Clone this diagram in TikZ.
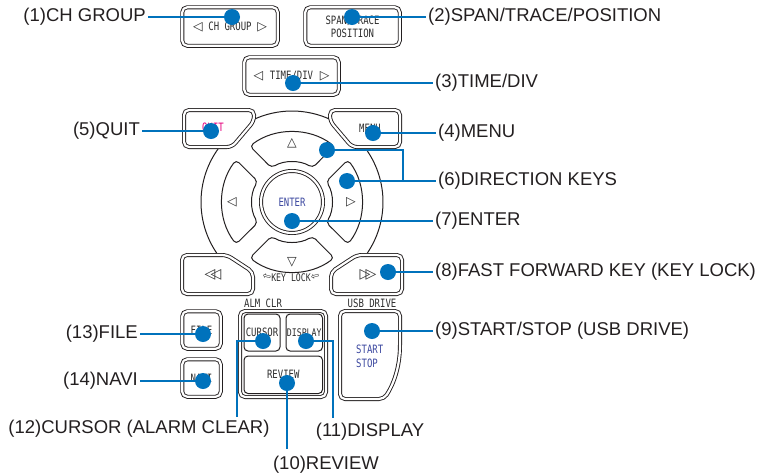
\documentclass[tikz,border=0pt]{standalone}
\usepackage{fontspec}
\setmainfont{Liberation Sans}
\newfontfamily\keyfont[FakeStretch=0.78]{DejaVu Sans Mono}
\newfontfamily\symfont{DejaVu Sans}
\usetikzlibrary{calc}
\definecolor{leadblue}{RGB}{0,114,188}
\definecolor{labeltext}{RGB}{35,31,32}
\definecolor{keyline}{RGB}{35,31,32}
\definecolor{keytext}{RGB}{45,45,45}
\definecolor{quitpink}{RGB}{230,0,126}
\definecolor{enterblue}{RGB}{60,72,160}
\tikzset{
    btn/.style={draw=keyline, line width=0.9pt, double=white, double distance=2.2pt,
        rounded corners=5pt, fill=white, inner sep=0pt},
    pad/.style={draw=keyline, line width=1pt, rounded corners=4pt, fill=white, inner sep=0pt},
    keylabel/.style={inner sep=0pt, text=keytext, font=\keyfont\fontsize{11.5}{13}\selectfont},
    sym/.style={inner sep=0pt, text=keytext, font=\symfont\fontsize{12.5}{12.5}\selectfont},
    dot/.style={circle, fill=leadblue, inner sep=0pt, minimum size=16pt},
    callout/.style={inner sep=2pt, text=labeltext, font=\fontsize{18.5}{20}\selectfont},
    lead/.style={leadblue, line width=2.2pt}
}
\def\ringr{91}
\def\keyout{70}
\def\keyin{40}
\def\trileft{{\symfont\fontsize{12.5}{12.5}\selectfont ◁}}
\def\triright{{\symfont\fontsize{12.5}{12.5}\selectfont ▷}}

\begin{document}
\begin{tikzpicture}[x=1pt, y=-1pt]
    \useasboundingbox (0,0) rectangle (758,475);
    \coordinate (c) at (292,202);

    % housing round the direction keys
    \draw
        [keyline, line width=1pt]
        ($(c)+(140:\ringr)$) arc[start angle=140, end angle=222, radius=\ringr]
        ($(c)+(-116:\ringr)$) arc[start angle=-116, end angle=-64, radius=\ringr]
        ($(c)+(-42:\ringr)$) arc[start angle=-42, end angle=40, radius=\ringr]
    ;

    % keys
    \draw
        node[btn, keylabel, minimum width=95.5pt, minimum height=38.5pt] (chgroup) at (230,26.5)
            {\makebox[74pt]{\trileft\hfill CH GROUP\hfill\triright}}
        node[btn, keylabel, align=center, minimum width=94.5pt, minimum height=38.5pt] (spantrace) at (352.5,26.5)
            {SPAN/TRACE\\POSITION}
        node[btn, keylabel, minimum width=94.5pt, minimum height=37.5pt] (timediv) at (291.5,76)
            {\makebox[76pt]{\trileft\hfill TIME/DIV\hfill\triright}}
        node[btn, keylabel, minimum width=38.5pt, minimum height=37.5pt] (file) at (201.5,330) {FILE}
        node[btn, keylabel, minimum width=38.5pt, minimum height=37.5pt] (navi) at (201.5,378) {NAVI}
        node[btn, minimum width=86pt, minimum height=86pt] (group) at (283,354) {}
        node[pad, keylabel, minimum width=36pt, minimum height=37pt] (cursor) at (262,332.5) {CURSOR}
        node[pad, keylabel, font=\keyfont\fontsize{10.5}{12}\selectfont, minimum width=36.5pt, minimum height=37pt]
            (display) at (304.25,332.5) {DISPLAY}
        node[pad, keylabel, minimum width=78.5pt, minimum height=37.5pt] (review) at (283.25,374.75) {REVIEW}
    ;
    \draw
        [btn]
        (219,110) -- (254,110) -- (254,121) -- (232,147) -- (184,147) -- (184,110) -- cycle
        (365,110) -- (400,110) -- (400,147) -- (352,147) -- (330,121) -- (330,110) -- cycle
        (182,275) -- (182,255) -- (227,255) -- (253,272) -- (253,294) -- (182,294) -- cycle
        (402,275) -- (402,255) -- (357,255) -- (331,272) -- (331,294) -- (402,294) -- cycle
        (370,311) -- (400,311) -- (400,340) .. controls (400,368) and (393,385) .. (384,399)
            -- (340,399) -- (340,311) -- cycle
    ;
    \foreach \a in {0,90,180,270}
        \draw
            [pad]
            ($(c)+(\a-37:\keyout)$) arc[start angle=\a-37, end angle=\a+37, radius=\keyout]
            -- ($(c)+(\a+31:\keyin)$) arc[start angle=\a+31, end angle=\a-31, radius=\keyin]
            -- cycle
        ;
    \node[btn, circle, keylabel, text=enterblue, minimum size=62pt] (enter) at (c) {ENTER};

    % key texts
    \draw
        node[keylabel, text=quitpink] (quit) at (213,128) {QUIT}
        node[keylabel] (menu) at (370,128) {MENU}
        node[sym] (up) at (292,143) {△}
        node[sym] (down) at (292,262) {▽}
        node[sym] (left) at (232,202) {◁}
        node[sym] (right) at (351,202) {▷}
        node[sym, font=\symfont\fontsize{14}{14}\selectfont] (rewind) at (213,275) {◁\kern-5pt◁}
        node[sym, font=\symfont\fontsize{14}{14}\selectfont] (fastfwd) at (368,275) {▷\kern-5pt▷}
        node[keylabel, font=\keyfont\fontsize{10.5}{12}\selectfont] (keylock) at (291,278) {KEY LOCK}
        node[sym, anchor=east, rotate=-15, font=\symfont\fontsize{10}{10}\selectfont] (lockl) at (keylock.west) {⇦}
        node[sym, anchor=west, rotate=15, font=\symfont\fontsize{10}{10}\selectfont] (lockr) at (keylock.east) {⇦}
        node[keylabel] (almclr) at (263,303) {ALM CLR}
        node[keylabel] (usbdrive) at (372,303) {USB DRIVE}
        node[keylabel, text=enterblue, align=left, anchor=west, font=\keyfont\fontsize{11.5}{14}\selectfont]
            (startstop) at (356,356) {START\\STOP}
    ;

    % call-outs
    \draw
        node[callout, anchor=east] (l1) at (148,17) {(1)CH GROUP}
        node[callout, anchor=west] (l2) at (426,17) {(2)SPAN/TRACE/POSITION}
        node[callout, anchor=west] (l3) at (433,83) {(3)TIME/DIV}
        node[callout, anchor=west] (l4) at (436,133) {(4)MENU}
        node[callout, anchor=east] (l5) at (142,131) {(5)QUIT}
        node[callout, anchor=west] (l6) at (436,181) {(6)DIRECTION KEYS}
        node[callout, anchor=west] (l7) at (433,221) {(7)ENTER}
        node[callout, anchor=west] (l8) at (433,272) {(8)FAST FORWARD KEY (KEY LOCK)}
        node[callout, anchor=west] (l9) at (433,331) {(9)START/STOP (USB DRIVE)}
        node[callout] (l10) at (326,465) {(10)REVIEW}
        node[callout] (l11) at (370,432) {(11)DISPLAY}
        node[callout] (l12) at (139,429) {(12)CURSOR (ALARM CLEAR)}
        node[callout, anchor=east] (l13) at (140,334) {(13)FILE}
        node[callout, anchor=east] (l14) at (140,381) {(14)NAVI}
    ;
    \draw
        node[dot] (d1) at (232,17) {}
        node[dot] (d2) at (352,17) {}
        node[dot] (d3) at (293,83) {}
        node[dot] (d4) at (373,133) {}
        node[dot] (d5) at (211,131) {}
        node[dot] (d6a) at (327,150) {}
        node[dot] (d6b) at (347,181) {}
        node[dot] (d7) at (292,221) {}
        node[dot] (d8) at (388,272) {}
        node[dot] (d9) at (372,331) {}
        node[dot] (d10) at (287,383) {}
        node[dot] (d11) at (306,341) {}
        node[dot] (d12) at (263,341) {}
        node[dot] (d13) at (203,334) {}
        node[dot] (d14) at (203,381) {}
    ;
    \coordinate (k6) at (403,181);
    \coordinate (k10) at (287,449);
    \coordinate (k11) at (333,418);
    \coordinate (k12) at (237,417);

    \draw
        [lead]
        (l1.east) -- (d1)
        (d2) -- (l2.west)
        (d3) -- (l3.west)
        (d4) -- (l4.west)
        (l5.east) -- (d5)
        (d6a) -| (k6)
        (d6b) -- (l6.west)
        (d7) -- (l7.west)
        (d8) -- (l8.west)
        (d9) -- (l9.west)
        (d10) -- (k10)
        (d11) -| (k11)
        (d12) -| (k12)
        (l13.east) -- (d13)
        (l14.east) -- (d14)
    ;
\end{tikzpicture}
\end{document}
